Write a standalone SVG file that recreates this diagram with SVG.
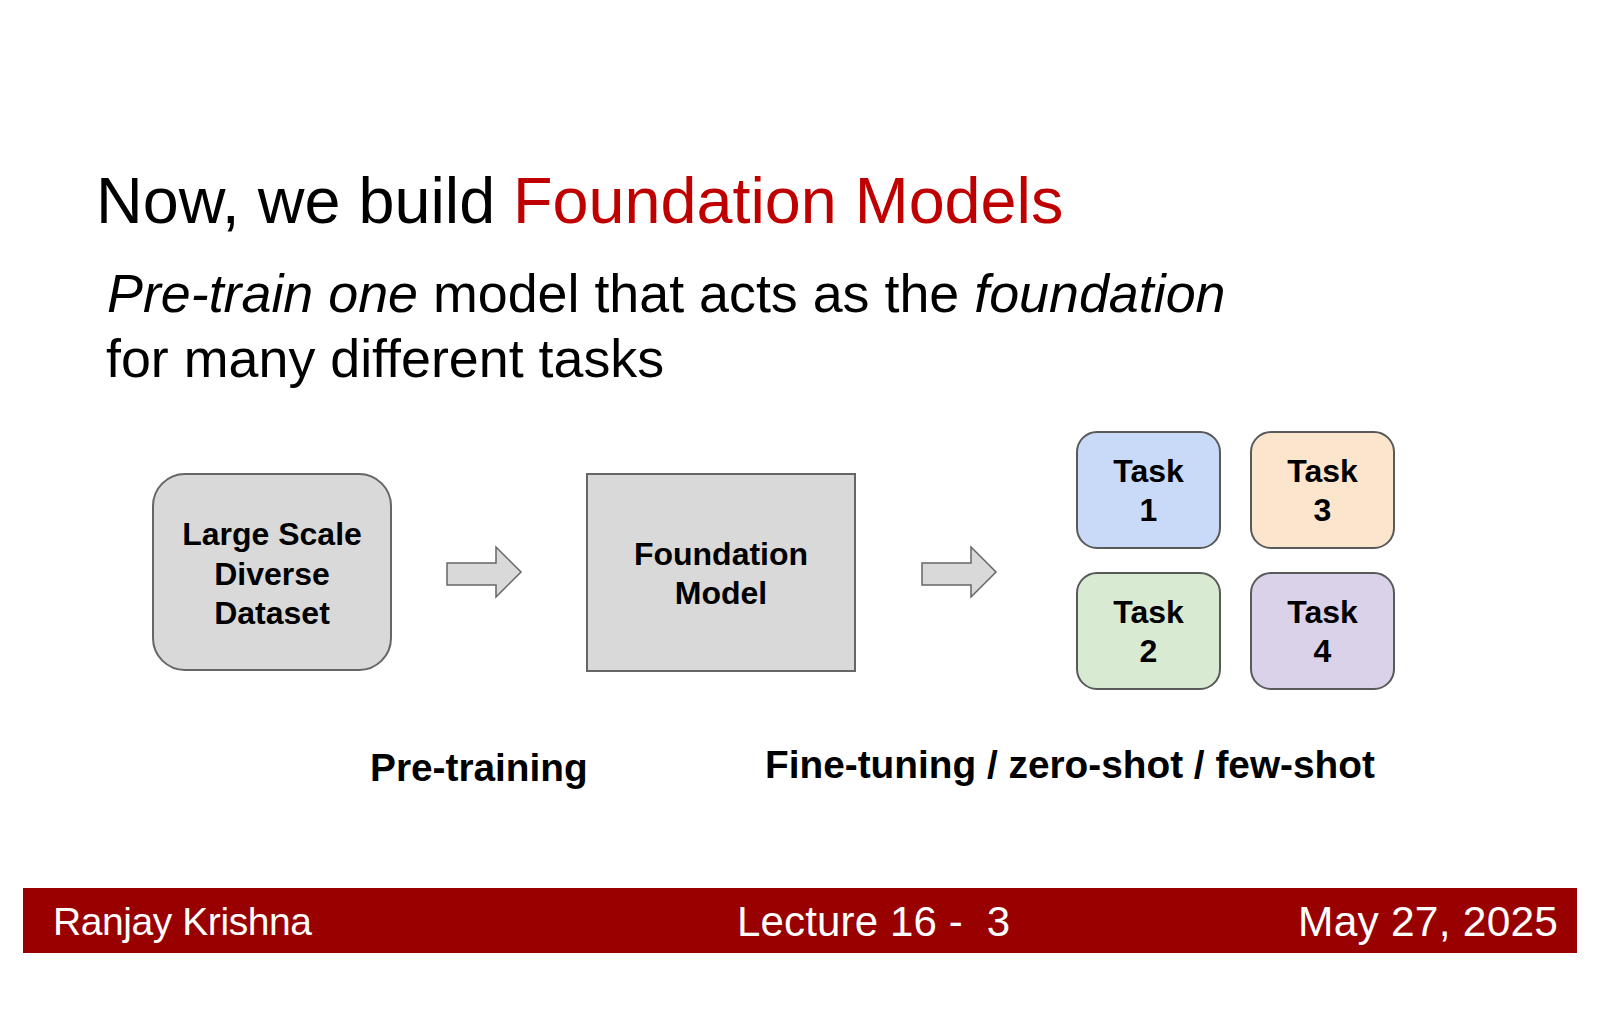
<svg xmlns="http://www.w3.org/2000/svg" width="1600" height="1035" viewBox="0 0 1600 1035">
<style>
.sans{font-family:"Liberation Sans",Arial,sans-serif}
.title{font-size:64.7px;fill:#000}
.red{fill:#c00000}
.sub{font-size:53.8px;fill:#000}
.it{font-style:italic}
.box{fill:#d9d9d9;stroke:#666;stroke-width:2}
.task{stroke:#595959;stroke-width:2}
.bt{font-size:32px;font-weight:bold;fill:#000;text-anchor:middle}
.lbl{font-size:38.8px;font-weight:bold;fill:#000}
.arrow{fill:#d9d9d9;stroke:#666;stroke-width:1.5}
.foot{fill:#fff;white-space:pre}
</style>
<rect x="0" y="0" width="1600" height="1035" fill="#fff"/>
<text class="sans title" x="96" y="223">Now, we build <tspan class="red">Foundation Models</tspan></text>
<text class="sans sub" x="107" y="312"><tspan class="it">Pre-train one</tspan> model that acts as the <tspan class="it">foundation</tspan></text>
<text class="sans sub" x="106" y="377">for many different tasks</text>

<g id="dataset">
<rect class="box" x="153" y="474" width="238" height="196" rx="32" ry="32"/>
<text class="sans bt" x="272" y="545">Large Scale</text>
<text class="sans bt" x="272" y="585">Diverse</text>
<text class="sans bt" x="272" y="624">Dataset</text>
</g>
<g id="foundation">
<rect class="box" x="587" y="474" width="268" height="197"/>
<text class="sans bt" x="721" y="565">Foundation</text>
<text class="sans bt" x="721" y="604">Model</text>
</g>
<g id="task1">
<rect class="task" x="1077" y="432" width="143" height="116" rx="20" ry="20" fill="#c9daf8"/>
<text class="sans bt" x="1148.5" y="482">Task</text>
<text class="sans bt" x="1148.5" y="521">1</text>
</g>
<g id="task3">
<rect class="task" x="1251" y="432" width="143" height="116" rx="20" ry="20" fill="#fce5cd"/>
<text class="sans bt" x="1322.5" y="482">Task</text>
<text class="sans bt" x="1322.5" y="521">3</text>
</g>
<g id="task2">
<rect class="task" x="1077" y="573" width="143" height="116" rx="20" ry="20" fill="#d9ead3"/>
<text class="sans bt" x="1148.5" y="623">Task</text>
<text class="sans bt" x="1148.5" y="662">2</text>
</g>
<g id="task4">
<rect class="task" x="1251" y="573" width="143" height="116" rx="20" ry="20" fill="#d9d2e9"/>
<text class="sans bt" x="1322.5" y="623">Task</text>
<text class="sans bt" x="1322.5" y="662">4</text>
</g>

<g id="connectors">
<polygon class="arrow" points="447,563 496,563 496,547 521,572 496,597 496,585 447,585"/>
<polygon class="arrow" points="922,563 971,563 971,547 996,572 971,597 971,585 922,585"/>
</g>

<text class="sans lbl" x="370" y="781">Pre-training</text>
<text class="sans lbl" x="765" y="778">Fine-tuning / zero-shot / few-shot</text>

<g id="footer">
<rect x="23" y="888" width="1554" height="65" fill="#990000"/>
<text class="sans foot" x="53" y="935" font-size="39" textLength="259">Ranjay Krishna</text>
<text class="sans foot" x="737" y="936" font-size="42" textLength="273">Lecture 16 -  3</text>
<text class="sans foot" x="1298" y="936" font-size="42.5" textLength="260">May 27, 2025</text>
</g>
</svg>
